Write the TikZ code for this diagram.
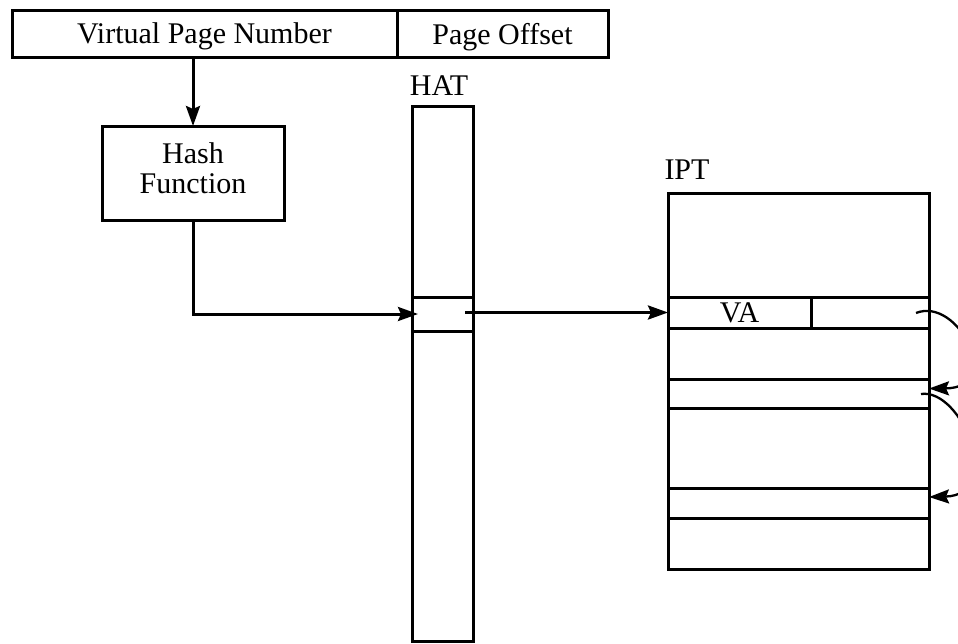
\documentclass[tikz,border=0pt]{standalone}
\usepackage{fontspec}
\setmainfont{Liberation Serif}
\usetikzlibrary{arrows.meta}
\begin{document}
\begin{tikzpicture}[x=1pt,y=-1pt,line width=3pt,
  every node/.style={font=\fontsize{30}{30}\selectfont,inner sep=0pt,outer sep=0pt,text depth=0pt},
  box/.style={draw,minimum width=#1},
  arr/.style={-{Stealth[length=20pt,width=14pt,inset=3pt]}},
  curvearr/.style={line width=2.3pt,-{Stealth[length=20pt,width=14pt,inset=3pt]}}]
\useasboundingbox (0,0) rectangle (958,643);
\clip (0,0) rectangle (958,643);

% virtual address: page number and offset
\node[box=385pt,minimum height=47pt] (vpn) at (204.5,33.5) {Virtual Page Number};
\node[box=211pt,minimum height=47pt] (off) at (502.5,33.5) {Page Offset};

% hash function
\node[box=182pt,minimum height=94pt] (hash) at (193,173) {};
\node[align=center] (hashtext) at (193,168) {Hash\\Function};

% hash anchor table
\node (hatlabel) at (439,86) {HAT};
\node[box=61pt,minimum height=535pt] (hat) at (442.5,373.5) {};
\node[box=61pt,minimum height=34pt] (slot) at (442.5,314) {};

% inverted page table
\node (iptlabel) at (687,170) {IPT};
\node[box=261pt,minimum height=376pt] (ipt) at (798.5,381) {};
\node[box=143pt,minimum height=31pt] (va) at (739.5,312.5) {VA};
\node[box=118pt,minimum height=31pt] (nxt) at (870,312.5) {};
\node[box=261pt,minimum height=29pt] (row2) at (798.5,393.5) {};
\node[box=261pt,minimum height=30pt] (row3) at (798.5,503) {};

% lookup path
\draw[arr] (vpn.south -| hash.north) -- (hash.north);
\draw[arr] (hash.south) -- (hash.south |- slot.west) -- ([xshift=6pt]slot.west);
\coordinate (slotout) at (465,312.5);
\draw[arr] (slotout) -- (va.west);

% collision chain
\coordinate (c1) at (916,313);
\coordinate (c2) at (921,394);
\draw[curvearr] (c1) .. controls (958,296) and (1005,388) .. ([yshift=5pt]row2.east);
\draw[curvearr] (c2) .. controls (962,388) and (1005,495) .. ([yshift=6pt]row3.east);
\end{tikzpicture}
\end{document}
